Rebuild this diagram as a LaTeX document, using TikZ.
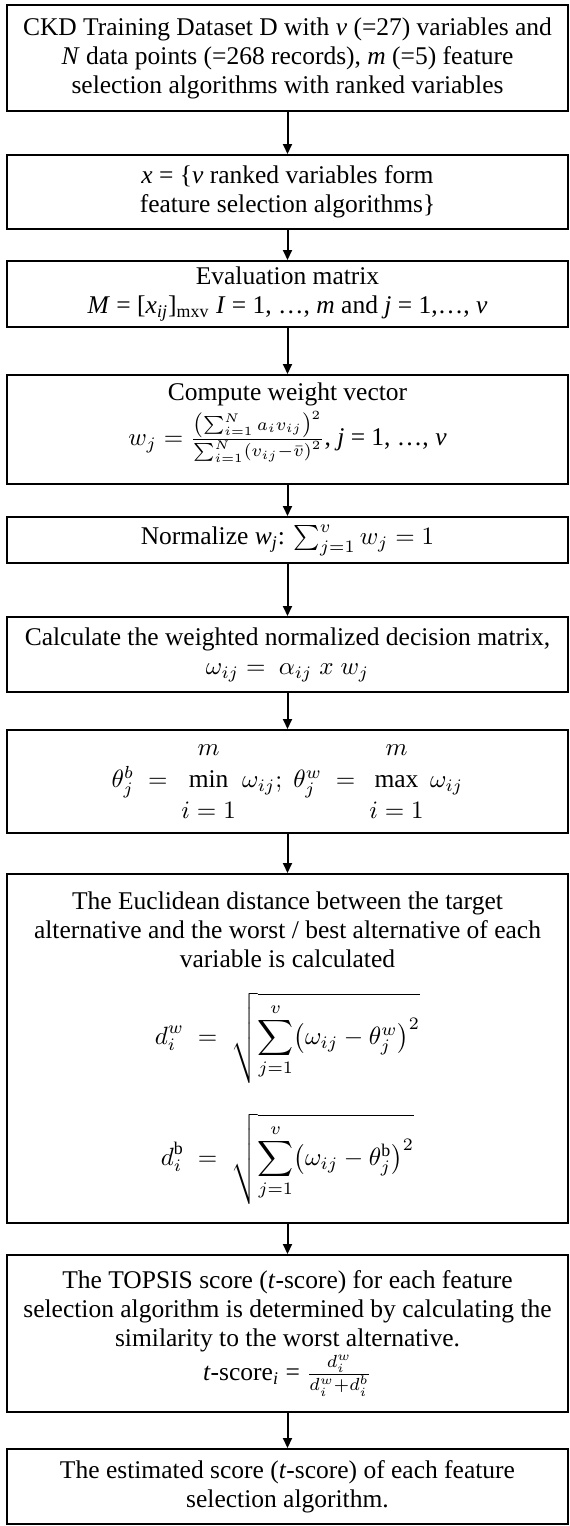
\documentclass[tikz,border=0pt]{standalone}
\usepackage{amsmath}
\usepackage{fontspec}
\setmainfont{Liberation Serif}
\usetikzlibrary{positioning,arrows.meta}

\begin{document}
\begin{tikzpicture}[node distance=14pt,
  every node/.style={font=\fontsize{10.2}{11.6}\selectfont},
  box/.style={draw, line width=0.8pt, minimum width=224.4pt, inner sep=0pt, align=center},
  flow/.style={-{Triangle[length=4pt,width=3.6pt]}, line width=0.8pt}]
  \useasboundingbox (0,0) rectangle (227.6pt,-610.4pt);
  % steps of the ranking procedure
  \node[box, minimum height=42.4pt, anchor=north] (data) at (115pt,-1.6pt)
    {CKD Training Dataset D with \textit{v} (=27) variables and\\
     \textit{N} data points (=268 records), \textit{m} (=5) feature\\
     selection algorithms with ranked variables};
  \node[box, minimum height=29.6pt, below=16.8pt of data] (ranked)
    {\textit{x} = \{\textit{v} ranked variables form\\
     feature selection algorithms\}};
  \node[box, minimum height=26.4pt, below=12pt of ranked] (evalmat)
    {Evaluation matrix\\
     \textit{M} = [\textit{x}\textsubscript{\textit{ij}}]\textsubscript{mxv} \textit{I} = 1, …, \textit{m} and \textit{j} = 1,…, \textit{v}};
  \node[box, minimum height=43.6pt, below=18.4pt of evalmat] (weight)
    {Compute weight vector\\[1pt]
     $w_j = \frac{\left(\sum_{i=1}^{N} a_i v_{ij}\right)^2}{\sum_{i=1}^{N}\left(v_{ij}-\bar{v}\right)^2}$, \textit{j} = 1, …, \textit{v}\rule[-12pt]{0pt}{12pt}};
  \node[box, minimum height=18.4pt, below=12.4pt of weight] (norm)
    {Normalize \textit{w}\textsubscript{\textit{j}}: $\sum_{j=1}^{v} w_j = 1$};
  \node[box, minimum height=30pt, below=20.8pt of norm] (wnorm)
    {Calculate the weighted normalized decision matrix,\\
     $\omega_{ij} = \ \alpha_{ij}\; x\; w_j$};
  \node[box, minimum height=41.2pt, below=14.4pt of wnorm] (ideal)
    {$\theta_j^b \;=\; \begin{array}{@{}c@{}} m\\[1pt] \min\\[1pt] i=1\end{array}\ \omega_{ij};\;
      \theta_j^w \;=\; \begin{array}{@{}c@{}} m\\[1pt] \max\\[1pt] i=1\end{array}\ \omega_{ij}$};
  \node[box, minimum height=139.6pt, below=15.6pt of ideal] (dist)
    {The Euclidean distance between the target\\
     alternative and the worst / best alternative of each\\
     variable is calculated\\[9pt]
     $\displaystyle d_i^w \;=\; \sqrt{\sum_{j=1}^{v}\bigl(\omega_{ij}-\theta_j^w\bigr)^2}$\\[11pt]
     $\displaystyle d_i^{\mathrm{b}} \;=\; \sqrt{\sum_{j=1}^{v}\bigl(\omega_{ij}-\theta_j^{\mathrm{b}}\bigr)^2}$};
  \node[box, minimum height=62.8pt, below=12pt of dist] (topsis)
    {The TOPSIS score (\textit{t}-score) for each feature\\
     selection algorithm is determined by calculating the\\
     similarity to the worst alternative.\\
     \textit{t}-score\textsubscript{\textit{i}} = $\frac{d_i^w}{d_i^w+d_i^b}$};
  \node[box, minimum height=30pt, below=14pt of topsis] (score)
    {The estimated score (\textit{t}-score) of each feature\\
     selection algorithm.};
  % arrows
  \draw[flow] (data) -- (ranked);
  \draw[flow] (ranked) -- (evalmat);
  \draw[flow] (evalmat) -- (weight);
  \draw[flow] (weight) -- (norm);
  \draw[flow] (norm) -- (wnorm);
  \draw[flow] (wnorm) -- (ideal);
  \draw[flow] (ideal) -- (dist);
  \draw[flow] (dist) -- (topsis);
  \draw[flow] (topsis) -- (score);
\end{tikzpicture}
\end{document}
